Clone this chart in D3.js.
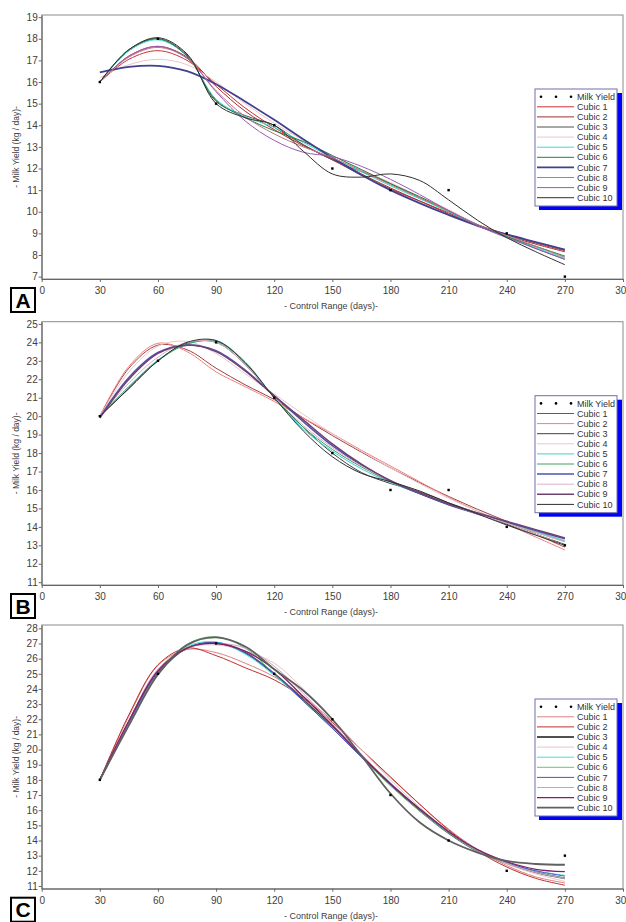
<!DOCTYPE html>
<html>
<head>
<style>
  body { margin: 0; background: #fff; }
  text { font-family: "Liberation Sans", Arial, sans-serif; }
</style>
</head>
<body>
<script src="https://cdn.jsdelivr.net/npm/d3@7"></script>
<script>

const width = 626;
const height = 922;

// sampling days of the fitted curves
const days = [30, 45, 60, 75, 90, 105, 120, 135, 150, 165, 180, 195, 210, 225, 240, 255, 270];
const obsDays = [30, 60, 90, 120, 150, 180, 210, 240, 270];
const xTicks = [0, 30, 60, 90, 120, 150, 180, 210, 240, 270, 300];
const legendNames = ['Cubic 1', 'Cubic 2', 'Cubic 3', 'Cubic 4', 'Cubic 5',
                     'Cubic 6', 'Cubic 7', 'Cubic 8', 'Cubic 9', 'Cubic 10'];

// panel A
const yieldA = [16, 18, 15, 14, 12, 11, 11, 9, 7];
const fitsA = [
  [16.0, 17.05, 17.45, 17.0, 15.9, 14.8, 13.9, 13.1, 12.4, 11.7, 11.05, 10.5, 9.95, 9.4, 8.95, 8.55, 8.2],
  [16.0, 17.2, 17.65, 17.15, 15.8, 14.65, 13.8, 13.05, 12.45, 11.75, 11.1, 10.5, 9.9, 9.35, 8.9, 8.5, 8.15],
  [16.0, 17.45, 18.0, 17.25, 15.1, 14.45, 14.0, 13.1, 12.4, 11.85, 11.3, 10.65, 10.0, 9.35, 8.85, 8.3, 7.8],
  [16.2, 16.8, 17.05, 16.8, 16.0, 15.0, 14.1, 13.3, 12.6, 11.95, 11.35, 10.7, 10.1, 9.4, 8.9, 8.4, 7.9],
  [16.0, 17.45, 17.95, 17.2, 15.2, 14.4, 13.9, 13.2, 12.5, 11.85, 11.2, 10.6, 10.0, 9.35, 8.85, 8.35, 7.85],
  [16.0, 17.5, 18.0, 17.2, 15.15, 14.35, 13.75, 13.25, 12.6, 11.95, 11.3, 10.7, 10.05, 9.4, 8.85, 8.4, 7.95],
  [16.45, 16.7, 16.75, 16.5, 15.9, 15.1, 14.25, 13.35, 12.5, 11.7, 11.0, 10.4, 9.85, 9.35, 8.95, 8.6, 8.25],
  [16.0, 17.15, 17.6, 17.1, 15.6, 14.4, 13.6, 13.0, 12.5, 11.9, 11.25, 10.65, 10.05, 9.4, 8.9, 8.4, 7.9],
  [16.0, 17.2, 17.65, 17.1, 15.55, 14.2, 13.3, 12.75, 12.55, 12.1, 11.5, 10.8, 10.05, 9.35, 8.8, 8.3, 7.8],
  [16.0, 17.5, 18.05, 17.3, 15.0, 14.35, 14.0, 12.8, 11.75, 11.6, 11.75, 11.45, 10.55, 9.6, 8.8, 8.15, 7.55]
];

// panel B
const yieldB = [20, 23, 24, 21, 18, 16, 16, 14, 13];
const fitsB = [
  [20.0, 22.6, 23.85, 23.6, 22.6, 21.7, 20.9, 19.9, 18.95, 18.05, 17.2, 16.4, 15.65, 14.95, 14.3, 13.6, 12.9],
  [20.0, 22.7, 23.95, 23.5, 22.4, 21.6, 20.8, 19.9, 19.05, 18.15, 17.3, 16.45, 15.6, 14.85, 14.15, 13.45, 12.75],
  [20.0, 21.5, 23.0, 23.95, 24.0, 22.8, 21.0, 19.4, 18.0, 16.95, 16.35, 15.9, 15.3, 14.75, 14.15, 13.6, 13.05],
  [20.0, 22.4, 23.8, 24.05, 23.4, 22.3, 21.2, 20.1, 19.05, 18.1, 17.2, 16.35, 15.55, 14.85, 14.2, 13.6, 13.0],
  [20.0, 21.6, 23.05, 23.9, 24.1, 22.95, 21.0, 19.3, 18.1, 17.15, 16.4, 15.8, 15.25, 14.75, 14.25, 13.75, 13.25],
  [20.0, 21.6, 23.0, 23.9, 24.05, 22.9, 21.0, 19.4, 18.2, 17.25, 16.45, 15.8, 15.2, 14.7, 14.2, 13.7, 13.2],
  [19.95, 22.1, 23.45, 23.85, 23.55, 22.5, 21.1, 19.7, 18.4, 17.35, 16.5, 15.8, 15.2, 14.7, 14.25, 13.8, 13.35],
  [20.0, 21.8, 23.2, 24.0, 24.0, 22.8, 21.05, 19.5, 18.3, 17.3, 16.5, 15.85, 15.25, 14.7, 14.2, 13.7, 13.2],
  [19.9, 22.0, 23.4, 23.85, 23.5, 22.45, 21.1, 19.8, 18.5, 17.4, 16.5, 15.85, 15.25, 14.75, 14.3, 13.85, 13.4],
  [20.0, 21.5, 23.0, 24.0, 24.1, 22.9, 21.0, 19.2, 17.8, 16.9, 16.45, 15.95, 15.3, 14.7, 14.1, 13.55, 13.0]
];

// panel C
const yieldC = [18, 25, 27, 25, 22, 17, 14, 12, 13];
const fitsC = [
  [18.0, 22.2, 25.55, 26.6, 26.4, 25.7, 24.8, 23.5, 21.9, 20.0, 18.15, 16.4, 14.75, 13.4, 12.35, 11.6, 11.2],
  [18.0, 22.3, 25.6, 26.7, 26.2, 25.4, 24.6, 23.4, 21.8, 20.0, 18.2, 16.4, 14.7, 13.3, 12.25, 11.5, 11.05],
  [18.0, 21.7, 25.0, 26.7, 27.05, 26.4, 25.0, 23.3, 21.5, 19.6, 17.7, 16.0, 14.5, 13.3, 12.5, 11.9, 11.5],
  [18.0, 21.9, 25.3, 26.7, 26.9, 26.5, 25.7, 24.0, 22.0, 20.0, 18.0, 16.2, 14.6, 13.35, 12.45, 11.8, 11.3],
  [18.0, 21.8, 25.1, 26.8, 27.1, 26.3, 24.9, 23.2, 21.45, 19.65, 17.8, 16.1, 14.55, 13.3, 12.5, 12.0, 11.7],
  [18.0, 21.7, 25.0, 26.95, 27.45, 26.7, 25.0, 23.2, 21.4, 19.5, 17.6, 15.95, 14.5, 13.3, 12.5, 11.9, 11.5],
  [18.0, 21.8, 25.1, 26.7, 27.05, 26.4, 25.0, 23.2, 21.4, 19.5, 17.7, 16.05, 14.55, 13.35, 12.55, 12.0, 11.65],
  [18.0, 21.9, 25.3, 26.7, 27.0, 26.7, 25.5, 23.7, 21.7, 19.7, 17.8, 16.1, 14.6, 13.35, 12.5, 11.9, 11.5],
  [18.0, 21.9, 25.2, 26.7, 27.0, 26.5, 25.3, 23.5, 21.6, 19.6, 17.75, 16.1, 14.6, 13.4, 12.6, 12.1, 11.95],
  [18.0, 21.6, 24.95, 26.9, 27.4, 26.8, 25.3, 23.9, 22.0, 19.6, 17.1, 15.2, 14.0, 13.2, 12.65, 12.45, 12.4]
];

const panels = [
  {label: 'A', top: 15, bottom: 279, domain: [6.89, 19.1], yTicks: d3.range(7, 20),
   obs: yieldA, fits: fitsA,
   colors: ['#d03030', '#a03030', '#505050', '#f0c4c4', '#40d8d8', '#208040', '#404090', '#c07878', '#9a5ab8', '#303030'],
   widths: [1, 1, 1, 1, 1, 1, 1.8, 1, 1, 1]},
  {label: 'B', top: 321.7, bottom: 585, domain: [10.85, 25.12], yTicks: d3.range(11, 26),
   obs: yieldB, fits: fitsB,
   colors: ['#a04040', '#f08080', '#404040', '#e8c8c8', '#40d0d0', '#40a060', '#5050b0', '#e0b0c8', '#704070', '#303030'],
   widths: [1, 1, 1, 1, 1, 1, 1.5, 1, 1.5, 1]},
  {label: 'C', top: 625, bottom: 888.7, domain: [10.82, 28.22], yTicks: d3.range(11, 29),
   obs: yieldC, fits: fitsC,
   colors: ['#e08080', '#c03030', '#505050', '#e8c4c4', '#40e0e0', '#70c070', '#5050d0', '#c8a0c8', '#802060', '#606060'],
   widths: [1, 1, 1.8, 1, 1, 1, 1, 1, 1.3, 1.8]}
];

const svg = d3.select('body')
              .append('svg')
              .attr('width', width)
              .attr('height', height);

const x = d3.scaleLinear().domain([0, 300]).range([41.7, 623]);

panels.forEach(p => {
  const y = d3.scaleLinear().domain(p.domain).range([p.bottom, p.top]);
  const g = svg.append('g');

  // plot frame
  g.append('rect')
    .attr('x', x(0)).attr('y', p.top)
    .attr('width', x(300) - x(0)).attr('height', p.bottom - p.top)
    .attr('fill', 'none').attr('stroke', '#8a8a8a');

  const yAxis = g.append('g')
    .attr('transform', `translate(${x(0)},0)`)
    .call(d3.axisLeft(y).tickValues(p.yTicks).tickSize(3).tickSizeOuter(0).tickPadding(1));
  const xAxis = g.append('g')
    .attr('transform', `translate(0,${p.bottom})`)
    .call(d3.axisBottom(x).tickValues(xTicks).tickSize(3).tickSizeOuter(0).tickPadding(5));
  [yAxis, xAxis].forEach(a => {
    a.select('.domain').attr('stroke', '#666');
    a.selectAll('.tick line').attr('stroke', '#666');
    a.selectAll('.tick text').attr('fill', '#404040').style('font-size', '10px')
      .style('font-family', '"Liberation Sans", Arial, sans-serif');
  });

  // fitted curves
  const line = d3.line()
    .x((d, i) => x(days[i]))
    .y(d => y(d))
    .curve(d3.curveCatmullRom.alpha(0.5));
  g.selectAll('path.fit')
    .data(p.fits)
    .enter()
    .append('path')
    .attr('class', 'fit')
    .attr('d', d => line(d))
    .attr('fill', 'none')
    .attr('stroke', (d, i) => p.colors[i])
    .attr('stroke-width', (d, i) => p.widths[i]);

  // observed milk yield
  g.selectAll('rect.obs')
    .data(p.obs)
    .enter()
    .append('rect')
    .attr('class', 'obs')
    .attr('x', (d, i) => x(obsDays[i]) - 1.2)
    .attr('y', d => y(d) - 1.2)
    .attr('width', 2.4).attr('height', 2.4)
    .attr('fill', '#000');

  // axis titles
  g.append('text')
    .attr('transform', `translate(16,${(p.top + p.bottom) / 2}) rotate(-90)`)
    .attr('text-anchor', 'middle')
    .attr('dy', '0.35em')
    .attr('fill', '#404040')
    .style('font-size', '8.5px')
    .text('- Milk Yield (kg / day)-');
  g.append('text')
    .attr('x', 331).attr('y', p.bottom + 30)
    .attr('text-anchor', 'middle')
    .attr('fill', '#404040')
    .style('font-size', '9px')
    .text('- Control Range (days)-');

  // legend
  const lt = p.top + 74;
  const lg = g.append('g');
  lg.append('rect')
    .attr('x', 539).attr('y', lt + 4).attr('width', 83).attr('height', 117)
    .attr('fill', '#0000ff');
  lg.append('rect')
    .attr('x', 535).attr('y', lt).attr('width', 82).attr('height', 117)
    .attr('fill', '#fff').attr('stroke', '#7070a8');
  const rowY = i => lt + 7.7 + i * 10.1;
  [541, 556, 571].forEach(cx => {
    lg.append('circle').attr('cx', cx).attr('cy', rowY(0)).attr('r', 1.3).attr('fill', '#000');
  });
  lg.append('text').attr('x', 577).attr('y', rowY(0)).attr('dy', '0.35em')
    .attr('fill', '#333').style('font-size', '9px').text('Milk Yield');
  legendNames.forEach((name, i) => {
    lg.append('line')
      .attr('x1', 537).attr('x2', 574)
      .attr('y1', rowY(i + 1)).attr('y2', rowY(i + 1))
      .attr('stroke', p.colors[i]).attr('stroke-width', p.widths[i]);
    lg.append('text').attr('x', 577).attr('y', rowY(i + 1)).attr('dy', '0.35em')
      .attr('fill', '#333').style('font-size', '9px').text(name);
  });

  // panel letter
  g.append('rect')
    .attr('x', 11).attr('y', p.bottom + 9).attr('width', 24).attr('height', 24)
    .attr('fill', '#fff').attr('stroke', '#000').attr('stroke-width', 2);
  g.append('text')
    .attr('x', 23).attr('y', p.bottom + 21).attr('dy', '0.36em')
    .attr('text-anchor', 'middle')
    .style('font-size', '21px').style('font-weight', 'bold')
    .attr('fill', '#000')
    .text(p.label);
});

</script>
</body>
</html>
